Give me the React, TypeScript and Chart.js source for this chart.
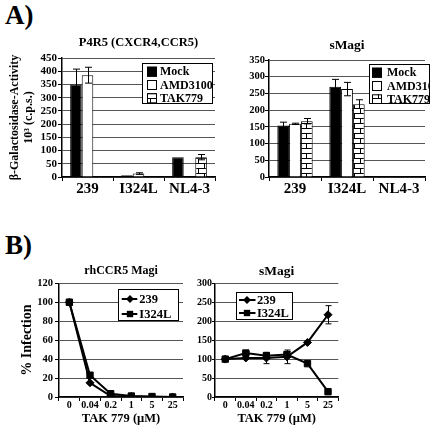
import React, { useEffect, useRef } from "react";
import { Chart, registerables } from "chart.js";

Chart.register(...registerables);

const SERIF = "'Liberation Serif', 'Times New Roman', Times, serif";
Chart.defaults.font.family = SERIF;
Chart.defaults.font.weight = "bold" as any;
Chart.defaults.color = "#000";

// ---------------- data: panel A ----------------
const strainsA = ["239", "I324L", "NL4-3"];
const treatLabels = ["Mock", "AMD3100", "TAK779"];

const p4r5Mock = [350, 7, 75];
const p4r5Amd = [385, 13, 0];
const p4r5Tak = [0, 0, 75];
const p4r5MockErr = [58, 0, 0];
const p4r5AmdErr = [30, 3, 0];
const p4r5TakErr = [0, 0, 10];

const sMagiMock = [154, 270, 0];
const sMagiAmd = [159, 263, 0];
const sMagiTak = [167, 218, 0];
const sMagiMockErr = [10, 22, 0];
const sMagiAmdErr = [2, 20, 0];
const sMagiTakErr = [8, 13, 0];

// ---------------- data: panel B ----------------
const takDoses = ["0", "0.04", "0.2", "1", "5", "25"];
const strainLabels = ["239", "I324L"];

const rh239 = [100, 15, 1, 0.5, 0, 0];
const rhI324L = [100, 23, 3.5, 1, 0.5, 0];
const rh239Err = [3, 0, 0, 0, 0, 0];
const rhI324LErr = [3, 0, 0, 0, 0, 0];

const sm239 = [100, 103, 103, 106, 144, 217];
const smI324L = [100, 116, 109, 112, 88, 14];
const sm239Err = [0, 0, 15, 18, 0, 24];
const smI324LErr = [0, 4, 6, 8, 0, 0];

// ---------------- helpers ----------------
function brickPattern(): any {
  const c = document.createElement("canvas");
  c.width = 12;
  c.height = 10;
  const g = c.getContext("2d");
  if (!g) return "#fff";
  g.fillStyle = "#fff";
  g.fillRect(0, 0, 12, 10);
  g.strokeStyle = "#000";
  g.lineWidth = 1;
  g.beginPath();
  g.moveTo(0, 0.5);
  g.lineTo(12, 0.5);
  g.moveTo(0, 5.5);
  g.lineTo(12, 5.5);
  g.moveTo(6.5, 0);
  g.lineTo(6.5, 5.5);
  g.moveTo(0.5, 5.5);
  g.lineTo(0.5, 10);
  g.stroke();
  return g.createPattern(c, "repeat") || "#fff";
}

const errorBarPlugin = {
  id: "errorBars",
  afterDatasetsDraw(chart: any, _a: any, opts: any) {
    const ctx = chart.ctx;
    const ys = chart.scales.y;
    const cap = (opts && opts.cap) || 3;
    chart.data.datasets.forEach((ds: any, i: number) => {
      const errs = ds.errors;
      if (!errs) return;
      const meta = chart.getDatasetMeta(i);
      meta.data.forEach((el: any, j: number) => {
        const e = errs[j];
        if (!e) return;
        const v = ds.data[j];
        const yTop = ys.getPixelForValue(v + e);
        const yBot = ys.getPixelForValue(Math.max(v - e, ys.min));
        const x = Math.round(el.x) + 0.5;
        ctx.save();
        ctx.strokeStyle = "#000";
        ctx.lineWidth = 1;
        ctx.beginPath();
        ctx.moveTo(x, yTop);
        ctx.lineTo(x, yBot);
        ctx.moveTo(x - cap, yTop);
        ctx.lineTo(x + cap, yTop);
        ctx.moveTo(x - cap, yBot);
        ctx.lineTo(x + cap, yBot);
        ctx.stroke();
        ctx.restore();
      });
    });
  },
};

function drawMarker(ctx: any, style: string, x: number, y: number, r: number) {
  ctx.beginPath();
  if (style === "rectRot") {
    ctx.moveTo(x, y - r);
    ctx.lineTo(x + r, y);
    ctx.lineTo(x, y + r);
    ctx.lineTo(x - r, y);
    ctx.closePath();
  } else {
    const s = r * Math.SQRT1_2;
    ctx.rect(x - s, y - s, 2 * s, 2 * s);
  }
  ctx.fill();
}

const boxLegendPlugin = {
  id: "boxLegend",
  afterDraw(chart: any, _a: any, o: any) {
    if (!o || !o.show) return;
    const { ctx, chartArea } = chart;
    const bx = Math.round(chartArea.left + o.x);
    const by = Math.round(chartArea.top + o.y);
    ctx.save();
    ctx.fillStyle = "#fff";
    ctx.fillRect(bx, by, o.w, o.h);
    ctx.beginPath();
    ctx.rect(bx, by, o.w, o.h);
    ctx.clip();
    chart.data.datasets.forEach((ds: any, i: number) => {
      const cy = by + o.rows[i];
      if (o.kind === "bar") {
        const s = o.sw;
        ctx.fillStyle = ds.backgroundColor;
        ctx.fillRect(bx + o.swX, cy - s / 2, s, s);
        ctx.strokeStyle = "#000";
        ctx.lineWidth = 1;
        ctx.strokeRect(bx + o.swX + 0.5, cy - s / 2 + 0.5, s - 1, s - 1);
      } else {
        ctx.strokeStyle = "#000";
        ctx.lineWidth = 2;
        ctx.beginPath();
        ctx.moveTo(bx + o.l0, cy);
        ctx.lineTo(bx + o.l1, cy);
        ctx.stroke();
        ctx.fillStyle = "#000";
        drawMarker(ctx, ds.pointStyle, bx + o.mx, cy, ds.pointRadius);
      }
      ctx.fillStyle = "#000";
      ctx.font = `bold ${o.fontSize}px ${SERIF}`;
      ctx.textBaseline = "middle";
      ctx.textAlign = "left";
      ctx.fillText(ds.label, bx + o.textX, cy + 0.5);
    });
    ctx.restore();
    ctx.save();
    ctx.strokeStyle = "#000";
    ctx.lineWidth = 1;
    ctx.strokeRect(bx + 0.5, by + 0.5, o.w - 1, o.h - 1);
    ctx.restore();
  },
};

function yAxis(max: number, step: number, width: number, tickLen: number, pad: number, fontSize: number, title?: any) {
  return {
    min: 0,
    max,
    ticks: { stepSize: step, font: { size: fontSize, weight: "bold" }, color: "#000", padding: pad, autoSkip: false },
    grid: { color: "#555", lineWidth: 1, tickLength: tickLen, tickColor: "#000", drawTicks: true },
    border: { color: "#000", width: 1.5 },
    title: title || { display: false },
    afterFit: (s: any) => {
      s.width = width;
    },
  };
}

function xAxis(fontSize: number, pad: number, height: number, offset: boolean, title?: any) {
  return {
    offset,
    ticks: { font: { size: fontSize, weight: "bold" }, color: "#000", padding: pad, maxRotation: 0, autoSkip: false },
    grid: { display: true, drawOnChartArea: false, offset: true, tickLength: 4, color: "#000" },
    border: { color: "#000", width: 1.5 },
    title: title || { display: false },
    afterFit: (s: any) => {
      s.height = height;
    },
  };
}

function titleOpt(text: string, size: number, top: number, bottom: number) {
  return {
    display: true,
    text,
    fullSize: false,
    font: { size, weight: "bold" },
    color: "#000",
    padding: { top, bottom },
  };
}

function barDatasets(a: number[], b: number[], c: number[], ea: number[], eb: number[], ec: number[]) {
  const brick = brickPattern();
  const base = { borderColor: "#000", borderWidth: 1, categoryPercentage: 0.68, barPercentage: 1 };
  return [
    { ...base, label: treatLabels[0], data: a, errors: ea, backgroundColor: "#000" },
    { ...base, label: treatLabels[1], data: b, errors: eb, backgroundColor: "#fff" },
    { ...base, label: treatLabels[2], data: c, errors: ec, backgroundColor: brick },
  ];
}

function lineDatasets(a: number[], b: number[], ea: number[], eb: number[]) {
  const base = {
    borderColor: "#000",
    backgroundColor: "#000",
    borderWidth: 2,
    pointBackgroundColor: "#000",
    pointBorderColor: "#000",
    pointBorderWidth: 1,
    tension: 0,
  };
  return [
    { ...base, label: strainLabels[0], data: a, errors: ea, pointStyle: "rectRot", pointRadius: 4 },
    { ...base, label: strainLabels[1], data: b, errors: eb, pointStyle: "rect", pointRadius: 4.5 },
  ];
}

const commonOpts = {
  responsive: false,
  animation: false,
  devicePixelRatio: 1,
  events: [],
};

function buildP4R5() {
  return {
    type: "bar",
    data: { labels: strainsA, datasets: barDatasets(p4r5Mock, p4r5Amd, p4r5Tak, p4r5MockErr, p4r5AmdErr, p4r5TakErr) },
    options: {
      ...commonOpts,
      layout: { padding: { left: 0, right: 7, top: 0, bottom: 0 }, autoPadding: false },
      plugins: {
        legend: { display: false },
        tooltip: { enabled: false },
        title: titleOpt("P4R5 (CXCR4,CCR5)", 12.5, 7.5, 7.5),
        errorBars: { cap: 3.5 },
        boxLegend: { show: true, kind: "bar", x: 80, y: 5, w: 71, h: 41, rows: [8.7, 22, 35.3], swX: 5, sw: 10, textX: 18, fontSize: 12 },
      },
      scales: {
        x: xAxis(15, -1, 22, true),
        y: yAxis(450, 50, 62, 4, 1, 11, {
          display: true,
          text: ["β-Galactosidase-Activity", "10³ (c.p.s.)"],
          font: { size: 12, weight: "bold" },
          color: "#000",
          padding: { top: 7.3, bottom: 0 },
        }),
      },
    },
    plugins: [errorBarPlugin, boxLegendPlugin],
  };
}

function buildSMagiA() {
  return {
    type: "bar",
    data: { labels: strainsA, datasets: barDatasets(sMagiMock, sMagiAmd, sMagiTak, sMagiMockErr, sMagiAmdErr, sMagiTakErr) },
    options: {
      ...commonOpts,
      layout: { padding: { left: 0, right: 14, top: 0, bottom: 0 }, autoPadding: false },
      plugins: {
        legend: { display: false },
        tooltip: { enabled: false },
        title: titleOpt("sMagi", 13.5, 9.6, 6.2),
        errorBars: { cap: 3.5 },
        boxLegend: { show: true, kind: "bar", x: 100, y: 4, w: 61, h: 40, rows: [8.7, 22, 35.3], swX: 3, sw: 10, textX: 18, fontSize: 12 },
      },
      scales: {
        x: xAxis(15, -1, 22, true),
        y: yAxis(350, 50, 47, 4, 0, 10.5),
      },
    },
    plugins: [errorBarPlugin, boxLegendPlugin],
  };
}

const takTitle = {
  display: true,
  text: "TAK 779 (µM)",
  font: { size: 12.5, weight: "bold" },
  color: "#000",
  padding: { top: 0, bottom: 6.5 },
};

function buildRh() {
  return {
    type: "line",
    data: { labels: takDoses, datasets: lineDatasets(rh239, rhI324L, rh239Err, rhI324LErr) },
    options: {
      ...commonOpts,
      layout: { padding: { left: 0, right: 9, top: 0, bottom: 0 }, autoPadding: false },
      plugins: {
        legend: { display: false },
        tooltip: { enabled: false },
        title: titleOpt("rhCCR5 Magi", 12, 5.8, 5.1),
        errorBars: { cap: 3 },
        boxLegend: { show: true, kind: "line", x: 59, y: 5.7, w: 61, h: 32, rows: [10, 25], l0: 3.7, l1: 19.3, mx: 12, textX: 21.3, fontSize: 12.5 },
      },
      scales: {
        x: xAxis(10, -1.5, 36, true, takTitle),
        y: yAxis(120, 20, 59, 4, 2, 10.5, {
          display: true,
          text: "% Infection",
          font: { size: 14, weight: "bold" },
          color: "#000",
          padding: { top: 19.1, bottom: 0 },
        }),
      },
    },
    plugins: [errorBarPlugin, boxLegendPlugin],
  };
}

function buildSMagiB() {
  return {
    type: "line",
    data: { labels: takDoses, datasets: lineDatasets(sm239, smI324L, sm239Err, smI324LErr) },
    options: {
      ...commonOpts,
      layout: { padding: { left: 0, right: 100.7, top: 0, bottom: 0 }, autoPadding: false },
      plugins: {
        legend: { display: false },
        tooltip: { enabled: false },
        title: titleOpt("sMagi", 13.5, 5.9, 3.2),
        errorBars: { cap: 3 },
        boxLegend: { show: true, kind: "line", x: 20.5, y: 9, w: 57, h: 28, rows: [8, 21], l0: 3, l1: 19.5, mx: 11, textX: 21, fontSize: 12.5 },
      },
      scales: {
        x: xAxis(10, -1.5, 36, true, takTitle),
        y: yAxis(300, 50, 23, 3, 0, 10),
      },
    },
    plugins: [errorBarPlugin, boxLegendPlugin],
  };
}

function Panel(props: { left: number; top: number; width: number; height: number; build: () => any }) {
  const ref = useRef<HTMLCanvasElement | null>(null);
  useEffect(() => {
    if (!ref.current) return;
    const chart = new Chart(ref.current, props.build() as any);
    return () => chart.destroy();
  }, []);
  return (
    <canvas
      ref={ref}
      width={props.width}
      height={props.height}
      style={{ position: "absolute", left: props.left, top: props.top, width: props.width, height: props.height }}
    />
  );
}

const panelLetter: React.CSSProperties = {
  position: "absolute",
  fontFamily: SERIF,
  fontWeight: "bold",
  fontSize: 27,
  lineHeight: "27px",
  color: "#000",
  margin: 0,
};

export default function App() {
  return (
    <div style={{ position: "absolute", left: 0, top: 0, width: 439, height: 433, background: "#fff", overflow: "hidden" }}>
      <div style={{ ...panelLetter, left: 5, top: 2.3 }}>A)</div>
      <div style={{ ...panelLetter, left: 5, top: 232 }}>B)</div>
      <Panel left={0} top={28} width={222} height={171} build={buildP4R5} />
      <Panel left={222} top={28} width={217} height={171} build={buildSMagiA} />
      <Panel left={0} top={258} width={192} height={175} build={buildRh} />
      <Panel left={192} top={258} width={247} height={175} build={buildSMagiB} />
    </div>
  );
}
